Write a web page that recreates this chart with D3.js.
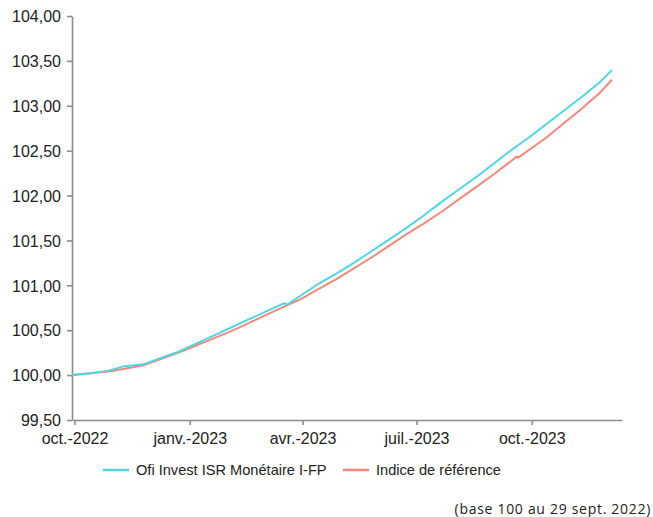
<!DOCTYPE html>
<html>
<head>
<meta charset="utf-8">
<script src="https://cdn.jsdelivr.net/npm/d3@7"></script>
<style>
  body { margin: 0; background: #fff; }
  svg text { font-family: "Liberation Sans", Arial, sans-serif; fill: #222; }
</style>
</head>
<body>
<div id="chart"></div>
<script>
const dates = [
  "2022-09-29","2022-10-14","2022-10-28","2022-11-10","2022-11-25","2022-12-09","2022-12-23",
  "2023-01-06","2023-01-20","2023-02-03","2023-02-17","2023-03-03","2023-03-17","2023-03-20",
  "2023-03-31","2023-04-14","2023-04-28","2023-05-12","2023-05-26","2023-06-09","2023-06-23",
  "2023-07-07","2023-07-21","2023-08-04","2023-08-18","2023-09-01","2023-09-15","2023-09-19",
  "2023-09-20","2023-09-29","2023-10-13","2023-10-27","2023-11-10","2023-11-24","2023-12-04"
]
const fund = [
  100.00,100.02,100.05,100.10,100.12,100.19,100.26,
  100.35,100.44,100.53,100.62,100.71,100.80,100.785,
  100.89,101.02,101.13,101.25,101.38,101.51,101.64,
  101.78,101.93,102.07,102.21,102.36,102.51,102.55,
  102.56,102.65,102.80,102.95,103.10,103.26,103.40
]
const bench = [
  100.00,100.02,100.04,100.07,100.11,100.18,100.25,
  100.33,100.41,100.49,100.58,100.67,100.76,100.78,
  100.85,100.96,101.07,101.19,101.31,101.44,101.57,
  101.69,101.82,101.96,102.10,102.24,102.39,102.435,
  102.42,102.51,102.65,102.81,102.97,103.14,103.29
]
const yTicks = [99.5, 100, 100.5, 101, 101.5, 102, 102.5, 103, 103.5, 104]
const xTicks = ["2022-10-01","2023-01-01","2023-04-01","2023-07-01","2023-10-01"]
const xLabels = ["oct.-2022","janv.-2023","avr.-2023","juil.-2023","oct.-2023"]
const seriesNames = ["Ofi Invest ISR Monétaire I-FP", "Indice de référence"]
const colors = ["#4fd6e6", "#f4887a"]

const width = 653, height = 517
const parse = d3.timeParse("%Y-%m-%d")

const svg = d3.select("#chart").append("svg")
  .attr("width", width)
  .attr("height", height)

const x = d3.scaleTime()
  .domain([parse("2022-09-29"), parse("2023-12-12")])
  .range([72, 622])

const y = d3.scaleLinear()
  .domain([99.5, 104])
  .range([420, 16])

const fmt = d => d.toFixed(2).replace(".", ",")

// axes
const yAxis = svg.append("g")
  .attr("transform", "translate(72,0)")
  .call(d3.axisLeft(y).tickValues(yTicks).tickFormat(fmt).tickSize(5).tickSizeOuter(0).tickPadding(6))
const xAxis = svg.append("g")
  .attr("transform", "translate(0,420)")
  .call(d3.axisBottom(x).tickValues(xTicks.map(parse))
    .tickFormat((d, i) => xLabels[i]).tickSize(5).tickSizeOuter(0).tickPadding(4))

svg.selectAll(".domain, .tick line")
  .attr("stroke", "#8c8c8c")
  .attr("stroke-width", 1.6)
svg.selectAll(".tick text")
  .style("font-size", "16px")
  .attr("fill", "#222")
yAxis.selectAll(".tick text").attr("dy", "0.36em")
xAxis.selectAll(".tick text").attr("dy", "0.95em")

// lines
const line = d3.line()
  .x((d, i) => x(parse(dates[i])))
  .y(d => y(d))

const series = [fund, bench]
;[1, 0].forEach(k => {
  svg.append("path")
    .datum(series[k])
    .attr("d", line)
    .attr("fill", "none")
    .attr("stroke", colors[k])
    .attr("stroke-width", 2)
    .attr("stroke-linejoin", "round")
})

// legend
const legend = svg.append("g").attr("transform", "translate(0,470)")
const legX = [103, 343]
seriesNames.forEach((name, i) => {
  legend.append("line")
    .attr("x1", legX[i]).attr("x2", legX[i] + 26)
    .attr("y1", 0).attr("y2", 0)
    .attr("stroke", colors[i]).attr("stroke-width", 2.5)
  legend.append("text")
    .attr("x", legX[i] + 33)
    .attr("y", 5)
    .style("font-size", "14.6px")
    .text(name)
})

// footnote
svg.append("text")
  .attr("x", 651)
  .attr("y", 514)
  .attr("text-anchor", "end")
  .style("font-family", "'Open Sans', 'Noto Sans', sans-serif")
  .style("font-size", "14px")
  .style("letter-spacing", "0.7px")
  .text("(base 100 au 29 sept. 2022)")
</script>
</body>
</html>
